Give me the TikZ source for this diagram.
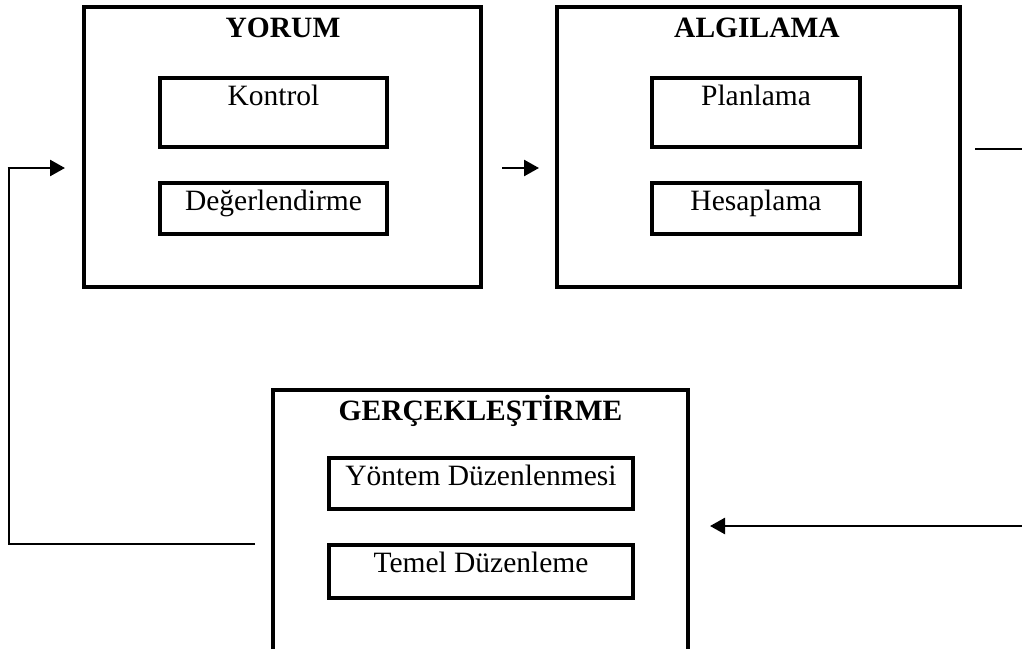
\documentclass[tikz,border=0pt]{standalone}
\usepackage{fontspec}
\setmainfont{Liberation Serif}
\usetikzlibrary{arrows.meta}
\begin{document}
\begin{tikzpicture}[x=1pt,y=-1pt,
  outerbox/.style={draw,line width=3.2pt,inner sep=0pt},
  innerbox/.style={draw,line width=3.2pt,inner sep=0pt},
  title/.style={anchor=base,inner sep=0pt,font=\fontsize{29.5}{35}\selectfont\bfseries},
  itemtext/.style={anchor=base,inner sep=0pt,font=\fontsize{29.5}{35}\selectfont},
  link/.style={line width=2.6pt},
  arrowlink/.style={line width=2.6pt,-{Triangle[length=15pt,width=16pt]}}]
\useasboundingbox (0,0) rectangle (1022,648);
\clip (0,0) rectangle (1022,648);

% YORUM block
\node[outerbox,minimum width=397pt,minimum height=280pt] (yorum) at (282.5,147) {};
\node[title] (yorumT) at (283,37) {YORUM};
\node[innerbox,minimum width=227pt,minimum height=69pt] (kontrol) at (273.5,112.5) {};
\node[itemtext] (kontrolT) at (273.5,105) {Kontrol};
\node[innerbox,minimum width=227pt,minimum height=51pt] (deger) at (273.5,208.5) {};
\node[itemtext] (degerT) at (273.5,210) {Değerlendirme};

% ALGILAMA block
\node[outerbox,minimum width=403pt,minimum height=280pt] (algilama) at (758.5,147) {};
\node[title] (algilamaT) at (757,37) {ALGILAMA};
\node[innerbox,minimum width=208pt,minimum height=69pt] (planlama) at (756,112.5) {};
\node[itemtext] (planlamaT) at (756,105) {Planlama};
\node[innerbox,minimum width=208pt,minimum height=51pt] (hesap) at (756,208.5) {};
\node[itemtext] (hesapT) at (756,210) {Hesaplama};

% GERÇEKLEŞTİRME block (runs past the lower edge)
\node[outerbox,minimum width=415pt,minimum height=300pt] (gercek) at (480.5,540) {};
\node[title] (gercekT) at (480.5,420) {GERÇEKLEŞTİRME};
\node[innerbox,minimum width=304pt,minimum height=51pt] (yontem) at (481,483.5) {};
\node[itemtext] (yontemT) at (481,485) {Yöntem Düzenlenmesi};
\node[innerbox,minimum width=304pt,minimum height=53pt] (temel) at (481,571.5) {};
\node[itemtext] (temelT) at (481,572) {Temel Düzenleme};

% connector ends
\coordinate (midA) at (502,168);
\coordinate (midB) at (539,168);
\coordinate (loopA) at (255,544);
\coordinate (loopB) at (9,544);
\coordinate (loopC) at (9,168);
\coordinate (loopD) at (65,168);
\coordinate (outA) at (975,149);
\coordinate (outB) at (1022,149);
\coordinate (inA) at (1022,526);
\coordinate (inB) at (710,526);

% connectors
\draw[arrowlink] (midA) -- (midB);
\draw[link] (loopA) -- (loopB) -- (loopC);
\draw[arrowlink] ([xshift=-1.3pt]loopC) -- (loopD);
\draw[link] (outA) -- (outB);
\draw[arrowlink] (inA) -- (inB);
\end{tikzpicture}
\end{document}
